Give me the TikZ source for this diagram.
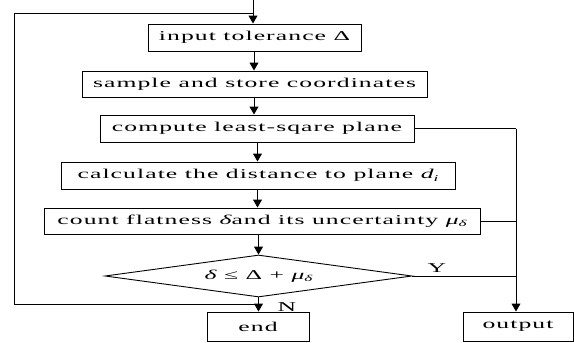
\documentclass[tikz,border=0pt]{standalone}
\usepackage{fontspec}
\setmainfont[FakeStretch=1.9,LetterSpace=8]{Liberation Serif}
\usetikzlibrary{arrows.meta,shapes.geometric}
\newcommand\lowidx[1]{\raisebox{-0.4ex}{\fontsize{9}{9}\selectfont\itshape #1}}
\begin{document}
\begin{tikzpicture}[x=1pt,y=-1pt,
  box/.style={draw,line width=1pt,minimum height=27pt,inner sep=0pt,font=\fontsize{13.5}{16}\selectfont},
  arr/.style={-{Triangle[width=9pt,length=8pt]},line width=1pt},
  ln/.style={line width=0.9pt},
  lab/.style={inner sep=0pt,font=\fontsize{13.5}{16}\selectfont}]
\useasboundingbox (0,0) rectangle (574,343);
\node[box,minimum width=213pt] (b1) at (254.5,37.5) {input tolerance Δ};
\node[box,minimum width=345pt,minimum height=26pt] (b2) at (254.5,84) {sample and store coordinates};
\node[box,minimum width=314pt] (b3) at (257,128.5) {compute least-sqare plane};
\node[box,minimum width=394pt] (b4) at (258,175.5) {calculate the distance to plane {\itshape d}\lowidx{i}};
\node[box,minimum width=436pt,minimum height=26pt] (b5) at (262,221) {count flatness {\itshape δ}and its uncertainty {\itshape μ}\lowidx{δ}};
\node[draw,line width=0.9pt,shape=diamond,aspect=7.31,minimum width=307pt,minimum height=42pt,inner sep=0pt,font=\fontsize{13.5}{16}\selectfont] (d) at (258.5,276) {{\itshape δ} ≤ Δ + {\itshape μ}\lowidx{δ}};
\node[box,minimum width=102pt,minimum height=29pt] (e) at (258,326.5) {end};
\node[box,minimum width=110pt,minimum height=29pt] (o) at (518,326.5) {output};
\node[lab] (N) at (287,307) {N};
\node[lab] (Y) at (437,268) {Y};
% coordinates
\coordinate (top) at (253,0);
\coordinate (colA) at (254,0);
\coordinate (colB) at (257.5,0);
\coordinate (lt) at (14,13);
\coordinate (lb) at (14,304);
\coordinate (jt) at (253,13);
\coordinate (jb) at (258,304);
\coordinate (rt) at (516,128.5);
% main flow
\draw[arr] (top) -- (b1.north -| top);
\draw[arr] (b1.south -| colA) -- (b2.north -| colA);
\draw[arr] (b2.south -| colA) -- (b3.north -| colA);
\draw[arr] (b3.south -| colB) -- (b4.north -| colB);
\draw[arr] (b4.south -| colB) -- (b5.north -| colB);
\draw[arr] (b5.south -| d.north) -- (d.north);
\draw[arr] (d.south) -- (e.north -| d.south);
% loop
\draw[ln] (jb) -- (lb) -- (lt) -- (jt);
% right side
\draw[ln] (b3.east) -- (rt);
\draw[arr] (rt) -- (o.north -| rt);
\draw[ln] (b5.east) -- (b5.east -| rt);
\draw[ln] (d.east) -- (d.east -| rt);
\end{tikzpicture}
\end{document}
